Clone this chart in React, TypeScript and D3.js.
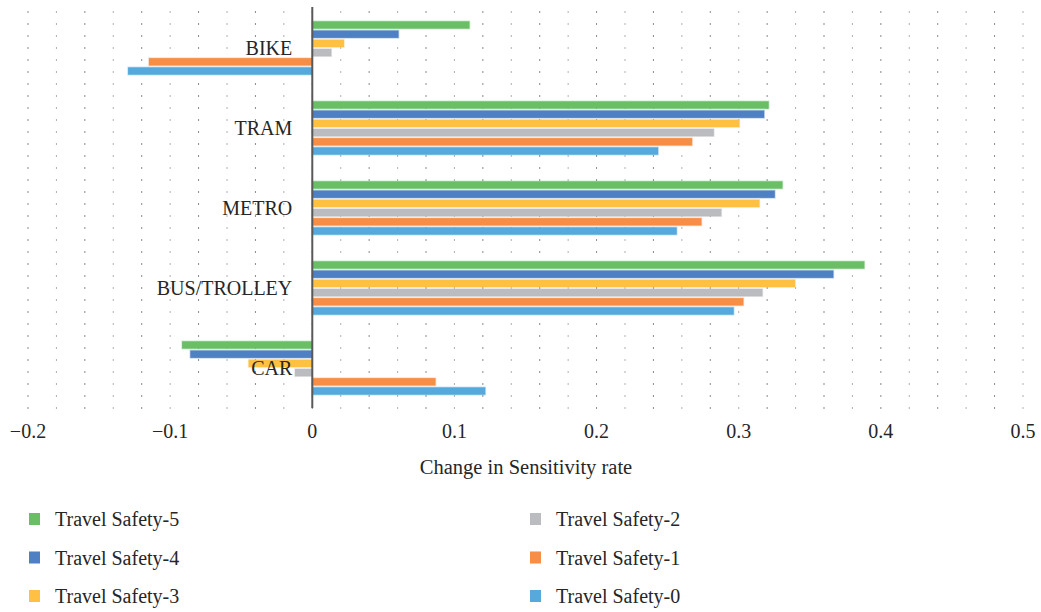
import React from "react";
import * as d3 from "d3";

const categories = ["BIKE", "TRAM", "METRO", "BUS/TROLLEY", "CAR"];
const seriesNames = ["Travel Safety-5", "Travel Safety-4", "Travel Safety-3", "Travel Safety-2", "Travel Safety-1", "Travel Safety-0"];
const seriesColors = ["#6abf66", "#4f80c3", "#ffc043", "#bbbcbf", "#f68e47", "#56a8dd"];

// values per series, in category order
const ts5 = [0.1106, 0.3211, 0.3308, 0.3884, -0.0916];
const ts4 = [0.0607, 0.3179, 0.3254, 0.3666, -0.0858];
const ts3 = [0.0223, 0.3005, 0.3146, 0.3397, -0.0448];
const ts2 = [0.0134, 0.2825, 0.2878, 0.3167, -0.0122];
const ts1 = [-0.1149, 0.2672, 0.2738, 0.3033, 0.0867];
const ts0 = [-0.1296, 0.2433, 0.2564, 0.2965, 0.1217];
const seriesValues = [ts5, ts4, ts3, ts2, ts1, ts0];

const xTicks = [-0.2, -0.1, 0, 0.1, 0.2, 0.3, 0.4, 0.5];

const FONT = "'Liberation Serif', 'DejaVu Serif', serif";

export default function App() {
  const width = 1041;
  const height = 612;
  const plotTop = 8;
  const plotBottom = 408;

  const x = d3.scaleLinear().domain([-0.2, 0.5]).range([28, 1023]);
  const y = d3.scaleBand().domain(categories).range([plotTop, plotBottom]);
  const inner = d3
    .scaleBand()
    .domain(seriesNames)
    .range([13.3, y.bandwidth() - 13.3])
    .paddingInner(0.2);

  const gridX = d3.range(-10, 26).map(i => i * 0.02);
  const fmt = (v: number) => (v === 0 ? "0" : (v < 0 ? "\u2212" : "") + d3.format(".1f")(Math.abs(v)));

  return (
    <svg
      width={width}
      height={height}
      style={{ position: "absolute", left: 0, top: 0, background: "#fff" }}
      fontFamily={FONT}
    >
      {/* dotted grid */}
      <g>
        {gridX.map((v, i) => (
          <line
            key={i}
            x1={x(v)}
            x2={x(v)}
            y1={plotTop + 3}
            y2={plotBottom + 2}
            stroke={i % 2 === 0 ? "#8a8a8a" : "#b0b0b0"}
            strokeWidth={1}
            strokeDasharray="2,10"
          />
        ))}
      </g>

      {/* bars */}
      {seriesNames.map((name, si) =>
        categories.map((cat, ci) => {
          const v = seriesValues[si][ci];
          const x0 = x(Math.min(0, v));
          const x1 = x(Math.max(0, v));
          return (
            <rect
              key={name + cat}
              x={x0}
              y={(y(cat) ?? 0) + (inner(name) ?? 0)}
              width={x1 - x0}
              height={inner.bandwidth()}
              fill={seriesColors[si]}
              stroke={seriesColors[si]}
              strokeOpacity={0.35}
              strokeWidth={1.5}
            />
          );
        })
      )}

      {/* zero line */}
      <line x1={x(0)} x2={x(0)} y1={plotTop - 1} y2={plotBottom} stroke="#595959" strokeWidth={2} />

      {/* category labels */}
      {categories.map(cat => (
        <text
          key={cat}
          x={x(0) - 20}
          y={(y(cat) ?? 0) + y.bandwidth() / 2}
          textAnchor="end"
          dominantBaseline="central"
          fontSize={20}
          fill="#262626"
        >
          {cat}
        </text>
      ))}

      {/* x tick labels */}
      {xTicks.map(t => (
        <text key={t} x={x(t)} y={431} textAnchor="middle" dominantBaseline="central" fontSize={20} fill="#262626">
          {fmt(t)}
        </text>
      ))}

      <text x={526} y={467} textAnchor="middle" dominantBaseline="central" fontSize={20.5} fill="#262626">
        Change in Sensitivity rate
      </text>

      {/* legend */}
      {seriesNames.map((name, i) => {
        const col = Math.floor(i / 3);
        const row = i % 3;
        const lx = col === 0 ? 29 : 530;
        const ly = 519 + row * 38.5;
        return (
          <g key={name}>
            <rect x={lx} y={ly - 6} width={11} height={12} fill={seriesColors[i]} />
            <text x={lx + 26} y={ly} dominantBaseline="central" fontSize={20} fill="#262626">
              {name}
            </text>
          </g>
        );
      })}
    </svg>
  );
}
